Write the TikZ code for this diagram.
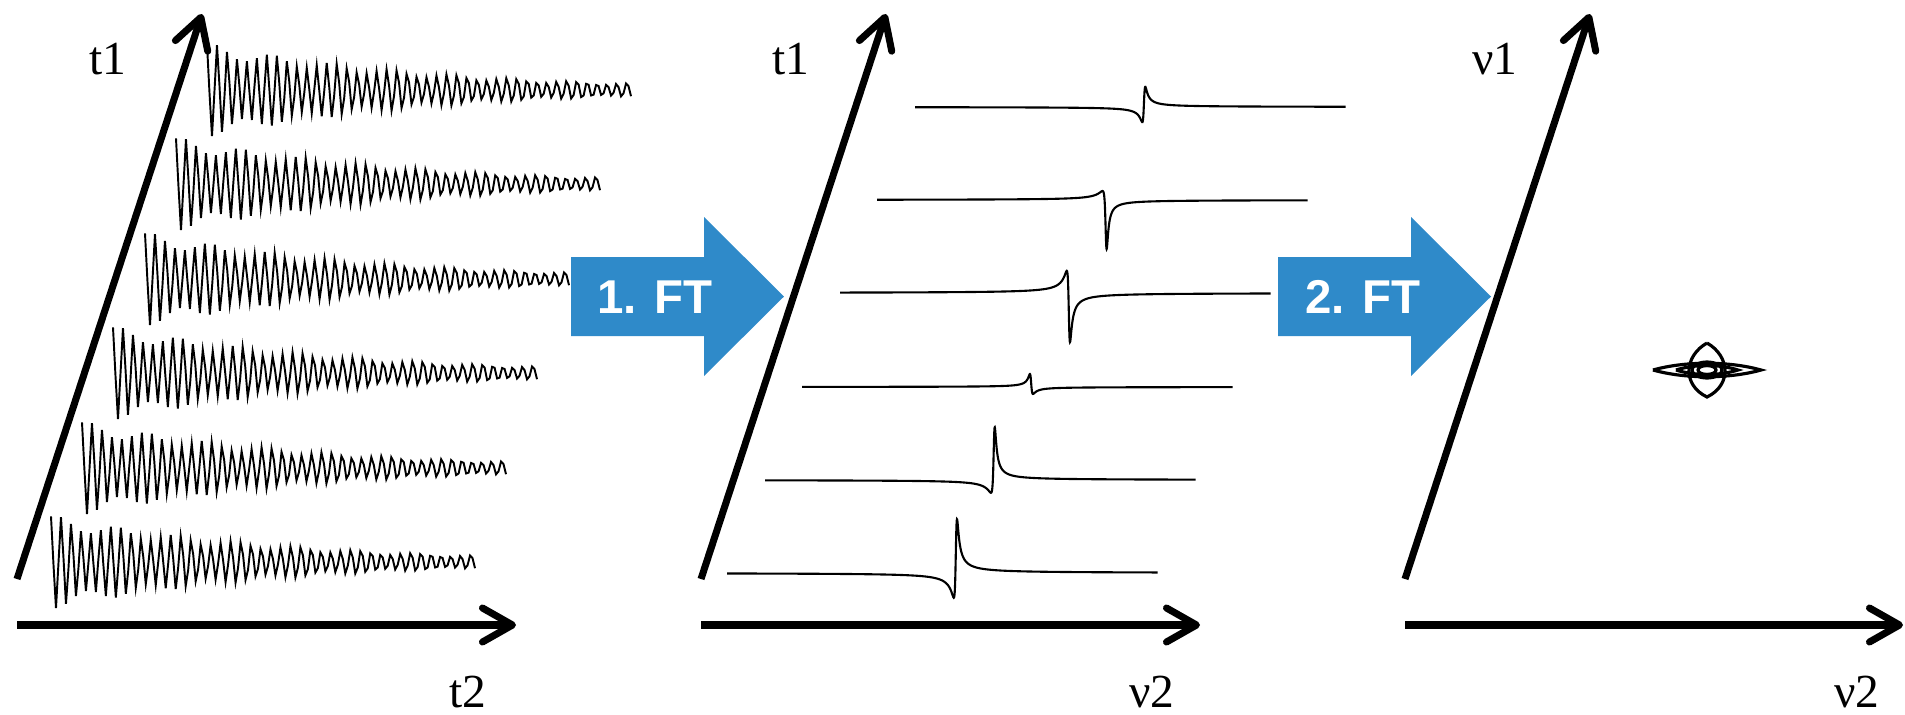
\documentclass[tikz,border=0pt]{standalone}
\usepackage{fontspec}
\setmainfont{Liberation Serif}
\newfontfamily\ftsans{Liberation Sans}
\usepackage{tikz}
\usetikzlibrary{arrows.meta}
\definecolor{ftblue}{RGB}{47,138,201}

\begin{document}
\begin{tikzpicture}[x=0.1mm, y=-0.1mm, font=\fontsize{13.5}{16}\selectfont,
	>={Straight Barb[length=3mm,width=3.4mm,round]},
	axisline/.style={->, line width=2pt},
	fidline/.style={line width=0.55pt, samples=171},
	specline/.style={line width=0.6pt, samples=90},
	cntr/.style={line width=0.9pt},
	ftlabel/.style={text=white, font=\ftsans\bfseries\fontsize{13.5}{16}\selectfont},
	lbl/.style={anchor=base},
	declare function={fid(\p)=45*exp(-\p/230)*(0.9*cos(36*\p)+0.15*cos(30*\p+40));
		lor(\p,\A,\D)=(0.0225*\A+0.15*\D*\p)/(\p*\p+0.0225);}]
			\useasboundingbox (0,0) rectangle (1905,715);
			% blue FT arrows
			\fill[ftblue] (571,257) -- (704,257) -- (704,217) -- (784,296.5) -- (704,376) -- (704,336) -- (571,336) -- cycle;
			\fill[ftblue] (1278,257) -- (1411,257) -- (1411,217) -- (1491,296.5) -- (1411,376) -- (1411,336) -- (1278,336) -- cycle;
			\node[ftlabel] (ft1) at (655,297) {1. FT};
			\node[ftlabel] (ft2) at (1363,297) {2. FT};
			% axes
			\coordinate (p1) at (17,579); \coordinate (q1) at (202,14);
			\coordinate (r1) at (17,625); \coordinate (s1) at (516,625);
			\coordinate (p2) at (701,579); \coordinate (q2) at (886,14);
			\coordinate (r2) at (701,625); \coordinate (s2) at (1200,625);
			\coordinate (p3) at (1405,579); \coordinate (q3) at (1590,14);
			\coordinate (r3) at (1405,625); \coordinate (s3) at (1903,625);
			\draw[axisline] (p1) -- (q1);
			\draw[axisline] (r1) -- (s1);
			\draw[axisline] (p2) -- (q2);
			\draw[axisline] (r2) -- (s2);
			\draw[axisline] (p3) -- (q3);
			\draw[axisline] (r3) -- (s3);
			\node[lbl] (t1a) at (108,74) {t1};
			\node[lbl] (t2a) at (468,707) {t2};
			\node[lbl] (t1b) at (791,74) {t1};
			\node[lbl] (v2b) at (1152,707) {ν2};
			\node[lbl] (v1c) at (1495,74) {ν1};
			\node[lbl] (v2c) at (1857,707) {ν2};
			% FIDs
			\draw[fidline] plot[domain=0:424] ({51+\x},{562-fid(\x)});
			\draw[fidline] plot[domain=0:424] ({82+\x},{468-fid(\x)});
			\draw[fidline] plot[domain=0:424] ({113+\x},{373-fid(\x)});
			\draw[fidline] plot[domain=0:424] ({145+\x},{279-fid(\x)});
			\draw[fidline] plot[domain=0:424] ({176+\x},{184-fid(\x)});
			\draw[fidline] plot[domain=0:424] ({207+\x},{90-fid(\x)});
			% spectra after 1. FT (peak positions)
			\draw[specline] plot[domain=-1:0] ({956+229*\x*\x*\x},{573-lor(22.9*\x*\x*\x,29,73)}) -- plot[domain=0:1] ({956+202*\x*\x*\x},{573-lor(20.2*\x*\x*\x,29,73)});
			\draw[specline] plot[domain=-1:0] ({994+229*\x*\x*\x},{480-lor(22.9*\x*\x*\x,40,52)}) -- plot[domain=0:1] ({994+202*\x*\x*\x},{480-lor(20.2*\x*\x*\x,40,52)});
			\draw[specline] plot[domain=-1:0] ({1031+229*\x*\x*\x},{387-lor(22.9*\x*\x*\x,6,-19)}) -- plot[domain=0:1] ({1031+202*\x*\x*\x},{387-lor(20.2*\x*\x*\x,6,-19)});
			\draw[specline] plot[domain=-1:0] ({1069+229*\x*\x*\x},{293-lor(22.9*\x*\x*\x,-27,-66)}) -- plot[domain=0:1] ({1069+202*\x*\x*\x},{293-lor(20.2*\x*\x*\x,-27,-66)});
			\draw[specline] plot[domain=-1:0] ({1106+229*\x*\x*\x},{200-lor(22.9*\x*\x*\x,-40,-42)}) -- plot[domain=0:1] ({1106+202*\x*\x*\x},{200-lor(20.2*\x*\x*\x,-40,-42)});
			\draw[specline] plot[domain=-1:0] ({1144+229*\x*\x*\x},{107-lor(22.9*\x*\x*\x,5,35)}) -- plot[domain=0:1] ({1144+202*\x*\x*\x},{107-lor(20.2*\x*\x*\x,5,35)});
			% 2D peak
			\draw[cntr] (1653,370) .. controls (1685,361) and (1729,361) .. (1761,370) .. controls (1729,379) and (1685,379) .. (1653,370);
			\draw[cntr] (1676,370) .. controls (1695,364) and (1719,364) .. (1738,370) .. controls (1719,376) and (1695,376) .. (1676,370);
			\draw[cntr] (1707,343) .. controls (1684,356) and (1682,385) .. (1707,397) .. controls (1732,385) and (1730,356) .. (1707,343);
			\draw[cntr] (1707,370) ellipse [x radius=1.5mm, y radius=0.8mm];
			\draw[cntr] (1707,370) ellipse [x radius=0.9mm, y radius=0.45mm];
		\end{tikzpicture}
\end{document}
